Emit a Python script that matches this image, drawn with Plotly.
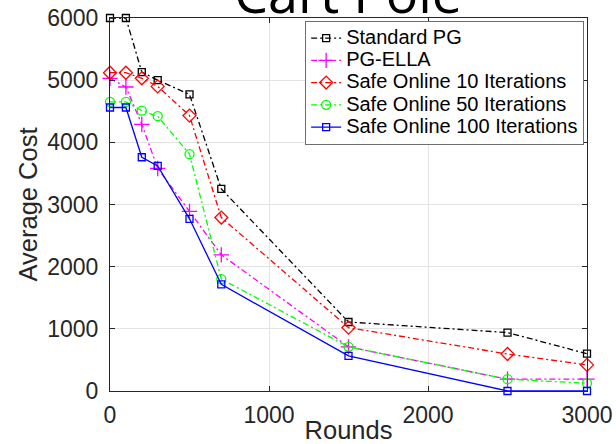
import plotly.graph_objects as go

# Learning curves: average cost per round for each method
rounds = [0, 100, 200, 300, 500, 700, 1500, 2500, 3000]
standard_pg = [6000, 6000, 5130, 5000, 4770, 3250, 1110, 940, 600]
pg_ella = [5030, 4890, 4290, 3580, 2890, 2190, 710, 190, 190]
safe_10 = [5120, 5120, 5030, 4900, 4430, 2790, 1020, 595, 420]
safe_50 = [4650, 4650, 4510, 4420, 3810, 1800, 710, 190, 125]
safe_100 = [4560, 4560, 3760, 3620, 2770, 1715, 565, 0, 0]

series_names = [
    "Standard PG",
    "PG-ELLA",
    "Safe Online 10 Iterations",
    "Safe Online 50 Iterations",
    "Safe Online 100 Iterations",
]
x_ticks = [0, 1000, 2000, 3000]
y_ticks = [0, 1000, 2000, 3000, 4000, 5000, 6000]

DASHDOT = "6px,3px,2px,3px"
styles = [
    dict(color="#000000", dash=DASHDOT, symbol="square-open", size=7),
    dict(color="#ff00ff", dash=DASHDOT, symbol="cross-thin-open", size=11),
    dict(color="#ff0000", dash=DASHDOT, symbol="diamond-open", size=10),
    dict(color="#00ff00", dash=DASHDOT, symbol="circle-open", size=9),
    dict(color="#0000ff", dash="solid", symbol="square-open", size=7),
]

fig = go.Figure()
for name, values, st in zip(series_names, [standard_pg, pg_ella, safe_10, safe_50, safe_100], styles):
    fig.add_trace(go.Scatter(
        x=rounds, y=values, mode="lines+markers",
        name='<span style="font-size:20px">' + name + "</span>",
        line=dict(color=st["color"], dash=st["dash"], width=1.3),
        marker=dict(symbol=st["symbol"], size=st["size"], color=st["color"],
                    line=dict(color=st["color"], width=1.3)),
        cliponaxis=False,
    ))

axis_common = dict(
    showline=True, linecolor="#262626", linewidth=1, mirror="ticks",
    ticks="inside", ticklen=5, tickcolor="#262626",
    showgrid=True, gridcolor="#e3e3e3", gridwidth=1, zeroline=False,
    automargin=False,
    tickfont=dict(family="Liberation Sans, Arial", size=23, color="#262626"),
)

fig.update_xaxes(range=[0, 3000], tickvals=x_ticks, ticklabelstandoff=3,
                 title=dict(text="Rounds", standoff=7,
                            font=dict(family="Liberation Sans, Arial", size=25.5, color="#262626")),
                 **axis_common)
fig.update_yaxes(range=[0, 6000], tickvals=y_ticks, ticklabelstandoff=6,
                 title=dict(text="Average Cost", standoff=2,
                            font=dict(family="Liberation Sans, Arial", size=25.5, color="#262626")),
                 **axis_common)

fig.update_layout(
    width=616, height=444,
    margin=dict(l=110, r=29, t=18, b=53),
    paper_bgcolor="white", plot_bgcolor="white",
    title=dict(text="Cart Pole", x=0.565, xanchor="center", xref="container",
               y=1 - 12.7 / 444, yanchor="bottom", yref="container",
               font=dict(family="Open Sans", size=54, color="#000000")),
    legend=dict(x=0.994, xanchor="right", y=0.992, yanchor="top",
                bgcolor="white", bordercolor="#6e6e6e", borderwidth=1,
                font=dict(family="Liberation Sans, Arial", size=14.8, color="#000000"),
                tracegroupgap=0),
    showlegend=True,
)

fig.write_html("out.html")
